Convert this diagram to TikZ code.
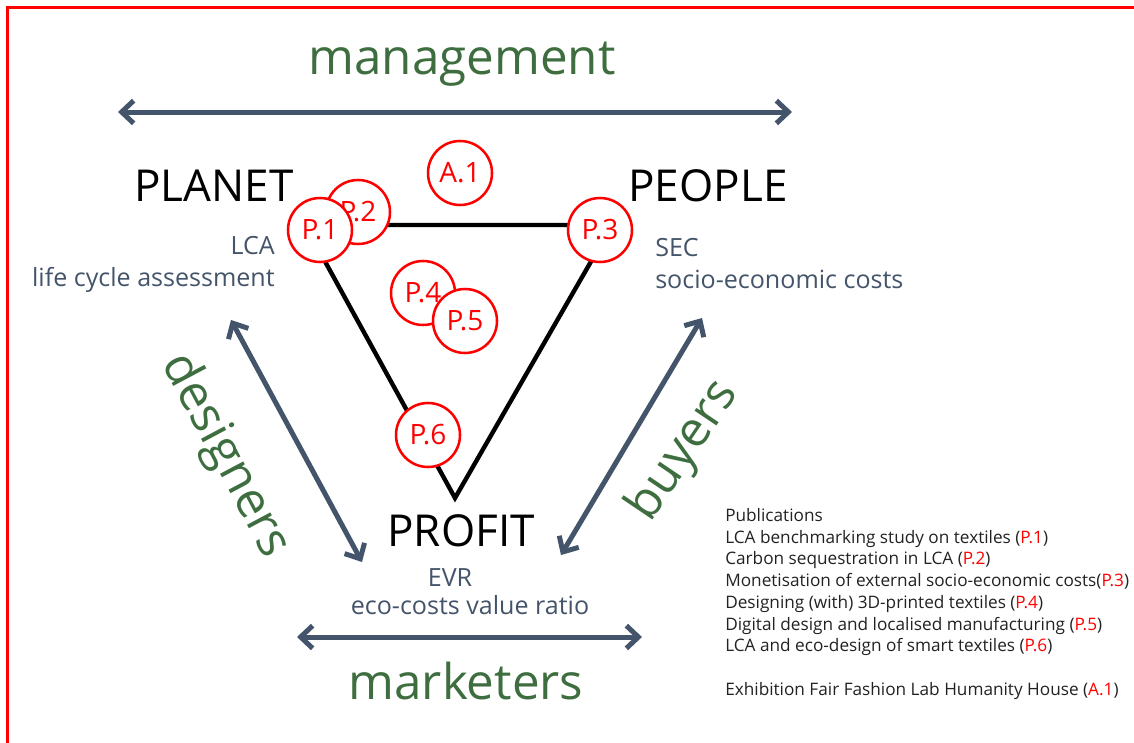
\documentclass[tikz,border=0pt]{standalone}
\usepackage{fontspec}
\setmainfont{Open Sans}
\usetikzlibrary{arrows.meta}
\definecolor{grn}{HTML}{3E6E40}
\definecolor{slate}{HTML}{44546A}
\definecolor{legtxt}{HTML}{222222}
\begin{document}
\begin{tikzpicture}[x=0.75pt,y=-0.75pt,
  big/.style={font=\fontsize{37}{44}\selectfont, text=grn, inner sep=0pt},
  head/.style={font=\fontsize{33}{40}\selectfont, text=black, inner sep=0pt},
  sub/.style={font=\fontsize{18.8}{24}\selectfont, text=slate, inner sep=0pt},
  arr/.style={draw=slate, line width=3.75pt, {Straight Barb[length=9pt,width=17pt]}-{Straight Barb[length=9pt,width=17pt]}},
  tri/.style={draw=black, line width=3.3pt},
  pub/.style={circle, draw=red, line width=1.9pt, fill=white, minimum size=48pt, inner sep=0pt, text=red, font=\fontsize{21}{25}\selectfont},
  leg/.style={font=\fontsize{12.9}{16.3}\selectfont, text=legtxt, align=left, inner sep=0pt, anchor=north west}
]
\useasboundingbox (0,0) rectangle (1134,742);
\clip (0,0) rectangle (1134,742);
\draw[red, line width=2.25pt] (7.5,7.5) rectangle (1200,800);

% labels
\node[big] (mgmt) at (462,64) {management};
\node[big] (mkt) at (466,681) {marketers};
\node[big, rotate=-62] (des) at (225,456) {designers};
\node[big, rotate=56] (buy) at (684,451) {buyers};

\node[head] (planet) at (214,186) {PLANET};
\node[head] (people) at (708,186) {PEOPLE};
\node[head] (profit) at (461,531) {PROFIT};

\node[sub, align=right, anchor=east] (lca) at (275,264) {LCA\\life cycle assessment};
\node[sub, align=left, anchor=west] (sec) at (655,264) {SEC\\socio-economic costs};
\node[sub] (evr) at (450,578) {EVR};
\node[sub] (ecv) at (470,605) {eco-costs value ratio};

% arrows
\coordinate (mgL) at (118,112); \coordinate (mgR) at (792,112);
\coordinate (mkL) at (297,637); \coordinate (mkR) at (642,637);
\coordinate (deT) at (231,320); \coordinate (deB) at (362,562);
\coordinate (buT) at (702,318); \coordinate (buB) at (561,555);
\draw[arr] (mgL) -- (mgR);
\draw[arr] (mkL) -- (mkR);
\draw[arr] (deT) -- (deB);
\draw[arr] (buT) -- (buB);

% triangle
\coordinate (tA) at (305,225); \coordinate (tB) at (612,225); \coordinate (tC) at (455,498);
\draw[tri, line join=miter] (tA) -- (tB) -- (tC) -- cycle;

% circles
\node[pub] (p2) at (358,212) {P.2};
\node[pub] (p1) at (320,230) {P.1};
\node[pub] (a1) at (460,173) {A.1};
\node[pub] (p3) at (600,230) {P.3};
\node[pub] (p4) at (423,293) {P.4};
\node[pub] (p5) at (465,321) {P.5};
\node[pub] (p6) at (428,435) {P.6};

% legend
\node[leg] (legend) at (725,508) {Publications\\
LCA benchmarking study on textiles (\textcolor{red}{P.1})\\
Carbon sequestration in LCA (\textcolor{red}{P.2})\\
Monetisation of external socio-economic costs(\textcolor{red}{P.3})\\
Designing (with) 3D-printed textiles (\textcolor{red}{P.4})\\
Digital design and localised manufacturing (\textcolor{red}{P.5})\\
LCA and eco-design of smart textiles (\textcolor{red}{P.6})\\[16.3pt]
Exhibition Fair Fashion Lab Humanity House (\textcolor{red}{A.1})};
\end{tikzpicture}
\end{document}
